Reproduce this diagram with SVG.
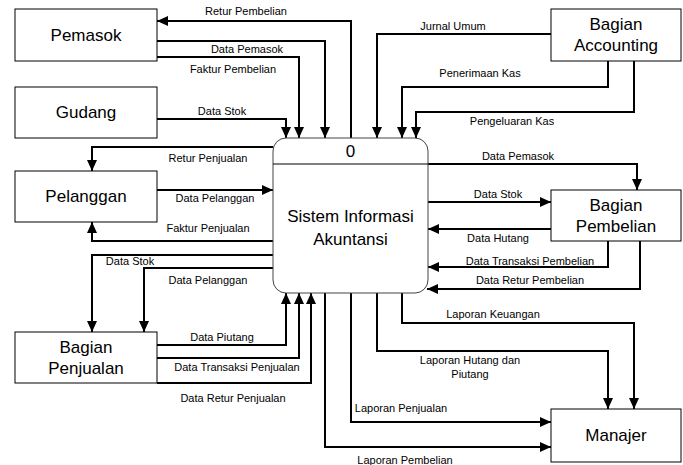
<svg xmlns="http://www.w3.org/2000/svg" width="683" height="465" viewBox="0 0 683 465">
<style>
.box{fill:#fff;stroke:#000;stroke-width:1}
.nt{font-family:"Liberation Sans",Arial,sans-serif;font-size:17px;fill:#000;text-anchor:middle}
.lt{font-family:"Liberation Sans",Arial,sans-serif;font-size:11px;fill:#000;text-anchor:middle}
.c{fill:none;stroke:#000;stroke-width:2;marker-end:url(#ah)}
</style>
<defs>
<marker id="ah" markerUnits="userSpaceOnUse" markerWidth="12" markerHeight="10" refX="11" refY="5" orient="auto">
<path d="M0,0 L11,5 L0,10 z" fill="#000"/>
</marker>
</defs>
<rect width="683" height="465" fill="#fff"/>
<g id="connectors">
<path class="c" d="M351,138 V21 H157"/>
<path class="c" d="M157,41 H325 V138"/>
<path class="c" d="M157,57 H299 V138"/>
<path class="c" d="M157,119 H286 V138"/>
<path class="c" d="M551,34 H377 V138"/>
<path class="c" d="M608,61 V87 H402 V138"/>
<path class="c" d="M634,61 V112 H416 V138"/>
<path class="c" d="M273,147 H92 V171"/>
<path class="c" d="M157,190 H273"/>
<path class="c" d="M273,241 H92 V222"/>
<path class="c" d="M273,255 H92 V332"/>
<path class="c" d="M273,268 H144 V332"/>
<path class="c" d="M157,345 H286 V293"/>
<path class="c" d="M157,358 H299 V293"/>
<path class="c" d="M157,383 H311 V293"/>
<path class="c" d="M325,293 V447 H551"/>
<path class="c" d="M351,293 V422 H551"/>
<path class="c" d="M377,293 V351 H608 V409"/>
<path class="c" d="M402,293 V323 H634 V409"/>
<path class="c" d="M428,164 H637 V190"/>
<path class="c" d="M428,202 H551"/>
<path class="c" d="M551,229 H428"/>
<path class="c" d="M608,241 V267 H428"/>
<path class="c" d="M640,241 V289 H427"/>
</g>
<g id="labels">
<text class="lt" x="246" y="15">Retur Pembelian</text>
<text class="lt" x="247" y="53">Data Pemasok</text>
<text class="lt" x="233" y="73">Faktur Pembelian</text>
<text class="lt" x="222" y="115">Data Stok</text>
<text class="lt" x="453" y="30">Jurnal Umum</text>
<text class="lt" x="480" y="77">Penerimaan Kas</text>
<text class="lt" x="512" y="125">Pengeluaran Kas</text>
<text class="lt" x="208" y="162">Retur Penjualan</text>
<text class="lt" x="215" y="202">Data Pelanggan</text>
<text class="lt" x="208" y="232">Faktur Penjualan</text>
<text class="lt" x="130" y="265">Data Stok</text>
<text class="lt" x="208" y="284">Data Pelanggan</text>
<text class="lt" x="222" y="341">Data Piutang</text>
<text class="lt" x="237" y="371">Data Transaksi Penjualan</text>
<text class="lt" x="233" y="402">Data Retur Penjualan</text>
<text class="lt" x="405" y="464">Laporan Pembelian</text>
<text class="lt" x="401" y="412">Laporan Penjualan</text>
<text class="lt" x="470" y="364">Laporan Hutang dan</text>
<text class="lt" x="470" y="378">Piutang</text>
<text class="lt" x="493" y="318">Laporan Keuangan</text>
<text class="lt" x="518" y="160">Data Pemasok</text>
<text class="lt" x="498" y="198">Data Stok</text>
<text class="lt" x="498" y="242">Data Hutang</text>
<text class="lt" x="530" y="265">Data Transaksi Pembelian</text>
<text class="lt" x="530" y="284">Data Retur Pembelian</text>
</g>
<g id="process0">
<rect x="273" y="138" width="155" height="155" rx="13" ry="13" fill="#fff" stroke="#444" stroke-width="1"/>
<line x1="273" y1="164" x2="428" y2="164" stroke="#000" stroke-width="1"/>
<text class="nt" x="350.5" y="157">0</text>
<text class="nt" x="350.5" y="222">Sistem Informasi</text>
<text class="nt" x="350.5" y="245">Akuntansi</text>
</g>
<g id="pemasok"><rect class="box" x="15" y="9" width="142" height="52"/><text class="nt" x="86" y="41">Pemasok</text></g>
<g id="gudang"><rect class="box" x="15" y="87" width="142" height="51"/><text class="nt" x="86" y="118">Gudang</text></g>
<g id="pelanggan"><rect class="box" x="15" y="171" width="142" height="51"/><text class="nt" x="86" y="202">Pelanggan</text></g>
<g id="penjualan"><rect class="box" x="15" y="332" width="142" height="51"/><text class="nt" x="86" y="353">Bagian</text><text class="nt" x="86" y="374">Penjualan</text></g>
<g id="accounting"><rect class="box" x="551" y="9" width="130" height="52"/><text class="nt" x="616" y="30">Bagian</text><text class="nt" x="616" y="51">Accounting</text></g>
<g id="pembelian"><rect class="box" x="551" y="190" width="130" height="51"/><text class="nt" x="616" y="211">Bagian</text><text class="nt" x="616" y="232">Pembelian</text></g>
<g id="manajer"><rect class="box" x="551" y="409" width="130" height="53"/><text class="nt" x="616" y="441">Manajer</text></g>
</svg>
